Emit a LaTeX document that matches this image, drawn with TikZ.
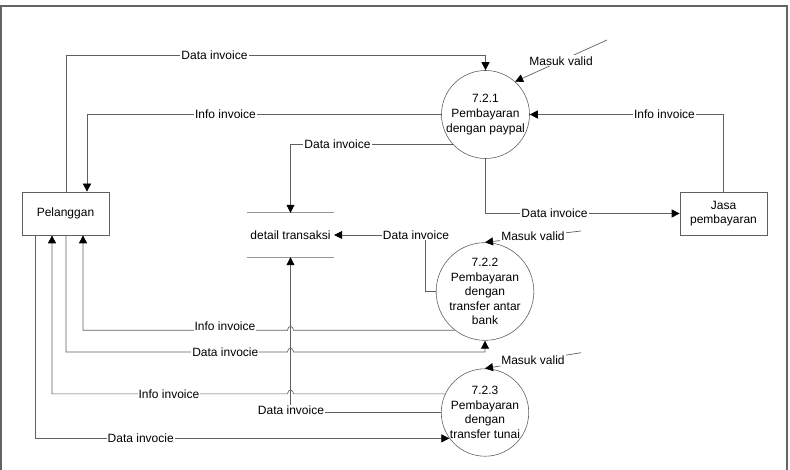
\documentclass[tikz,border=0pt]{standalone}
\usepackage{fontspec}
\setmainfont{Liberation Sans}
\usetikzlibrary{arrows.meta,calc}
\definecolor{linecol}{RGB}{96,96,96}
\definecolor{framecol}{RGB}{100,100,100}
\definecolor{storecol}{RGB}{150,150,150}
\tikzset{
  txt/.style={font=\fontsize{12}{14.6}\selectfont, text=black},
  proc/.style={circle, draw=linecol, line width=0.6pt, minimum size=87pt, inner sep=0pt, align=center, txt},
  ent/.style={rectangle, draw=linecol, line width=0.7pt, minimum width=87pt, minimum height=43pt, inner sep=0pt, align=center, txt},
  storebox/.style={rectangle, minimum width=87pt, minimum height=44pt, inner sep=0pt, txt},
  storeline/.style={draw=storecol, line width=1.1pt},
  flow/.style={draw=linecol, line width=0.7pt, -{Triangle[length=8pt,width=8pt,fill=black,color=black]}},
  lbl/.style={fill=white, inner sep=1pt, txt},
}
\begin{document}
\begin{tikzpicture}[x=1pt,y=-1pt]
\useasboundingbox (0,0) rectangle (790,470);
% frame
\draw[framecol, line width=1.2pt] (1,470) -- (1,6) -- (787,6) -- (787,470);

% nodes
\node[ent] (pel) at (65.5,213.5) {Pelanggan};
\node[ent] (jasa) at (723.5,213.5) {Jasa\\pembayaran};
\node[proc] (p1) at (485.5,114.5) {7.2.1\\Pembayaran\\dengan paypal};
\node[proc] (p2) at (485,291.5) {7.2.2\\Pembayaran\\dengan\\transfer antar\\bank};
\node[proc] (p3) at (485,412.5) {7.2.3\\Pembayaran\\dengan\\transfer tunai};
\node[storebox] (store) at (290.5,235) {detail transaksi};
\draw[storeline] (store.north west) -- (store.north east);
\draw[storeline] (store.south west) -- (store.south east);

% helper coordinates
\coordinate (a1) at (66,55);
\coordinate (b1) at (87,0);
\coordinate (d1) at (425,0);
\coordinate (e1) at (83,0);
\coordinate (f1) at (66,352);
\coordinate (h1) at (52,0);
\coordinate (g1) at (35,0);
\coordinate (m1) at (607,40);
\coordinate (m2) at (581,231);
\coordinate (m3) at (581,352.7);

% connectors
\draw[flow] (pel.north -| a1) -- (a1) -| (p1.north);
\draw[flow] (p1.west) -- (p1.west -| b1) -- (pel.north -| b1);
\draw[flow] (p1.223) -| (store.north);
\draw[flow] (jasa.north) |- (p1.east);
\draw[flow] (p1.south) |- (jasa.west);
\draw[flow] (p2.west) -- (p2.west -| d1) -- (store.east -| d1) -- (store.east);
\draw[flow] (p3.west) -| (store.south);

% with hops over the store line
\draw[flow] (p2.232) -- ($(p2.232 -| store.south)+(3,0)$)
   .. controls +(0,-5) and +(0,-5) .. ($(p2.232 -| store.south)+(-3,0)$)
   -- (p2.232 -| e1) -- (pel.south -| e1);
\draw[flow] (pel.south -| f1) -- (f1) -- ($(f1 -| store.south)+(-3,0)$)
   .. controls +(0,-5) and +(0,-5) .. ($(f1 -| store.south)+(3,0)$)
   -- (f1 -| p2.south) -- (p2.south);
\draw[flow] (p3.155) -- ($(p3.155 -| store.south)+(3,0)$)
   .. controls +(0,-5) and +(0,-5) .. ($(p3.155 -| store.south)+(-3,0)$)
   -- (p3.155 -| h1) -- (pel.south -| h1);
\draw[flow] (pel.south -| g1) |- (p3.216);

% Masuk valid inputs
\draw[flow] (m1) -- node[lbl] (mv1) {Masuk valid} (p1.48);
\draw[flow] (m2) -- node[lbl] (mv2) {Masuk valid} (p2.north);
\draw[flow] (m3) -- node[lbl] (mv3) {Masuk valid} (p3.north);

% labels
\node[lbl] (l1) at (214.5,55) {Data invoice};
\node[lbl] (l2) at (225.5,114.5) {Info invoice};
\node[lbl] (l3) at (337.5,144) {Data invoice};
\node[lbl] (l4) at (664.5,114.5) {Info invoice};
\node[lbl] (l5) at (554.5,213.5) {Data invoice};
\node[lbl] (l7) at (416,235) {Data invoice};
\node[lbl] (l8) at (225,326) {Info invoice};
\node[lbl] (l9) at (225.3,352) {Data invocie};
\node[lbl] (l10) at (169,394) {Info invoice};
\node[lbl] (l11) at (291,410) {Data invoice};
\node[lbl] (l12) at (140.7,438) {Data invocie};
\end{tikzpicture}
\end{document}
